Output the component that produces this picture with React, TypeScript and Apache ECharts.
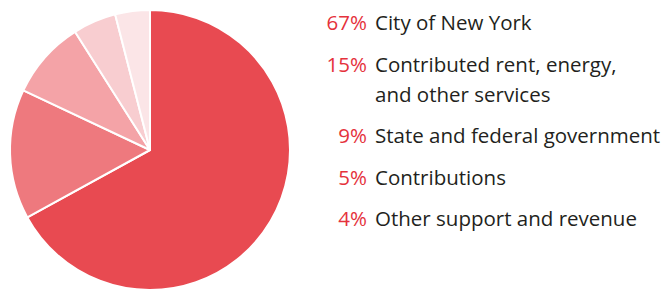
import React, { useEffect, useRef } from "react";
import * as echarts from "echarts";

const categories = [
  "City of New York",
  "Contributed rent, energy,\nand other services",
  "State and federal government",
  "Contributions",
  "Other support and revenue",
];
const values = [67, 15, 9, 5, 4];
const colors = ["#e84a51", "#ee797e", "#f4a3a7", "#f8cdd0", "#fbe5e7"];

export default function App() {
  const ref = useRef<HTMLDivElement>(null);
  useEffect(() => {
    document.body.style.margin = "0";
    const chart = echarts.init(ref.current!, null, { renderer: "svg" });
    const data = categories.map((name, i) => ({
      name,
      value: values[i],
      itemStyle: { color: colors[i] },
    }));

    const font = '20.5px "Open Sans"';
    const lineStep = 30;
    const itemGap = 11.5;
    const pctRight = 367;
    const textLeft = 375;
    let y = 22;
    const texts: any[] = [];
    categories.forEach((name, i) => {
      const lines = name.split("\n");
      texts.push({
        type: "text",
        style: {
          x: pctRight,
          y,
          text: `${values[i]}%`,
          font,
          fill: "#e5323c",
          align: "right",
          verticalAlign: "middle",
        },
      });
      lines.forEach((ln, k) => {
        texts.push({
          type: "text",
          style: {
            x: textLeft,
            y: y + k * lineStep,
            text: ln,
            font,
            fill: "#231f20",
            align: "left",
            verticalAlign: "middle",
          },
        });
      });
      y += lines.length * lineStep + itemGap;
    });

    chart.setOption({
      animation: false,
      graphic: texts,
      series: [
        {
          type: "pie",
          center: [150, 150],
          radius: 140,
          startAngle: 90,
          clockwise: true,
          label: { show: false },
          labelLine: { show: false },
          emphasis: { disabled: true },
          itemStyle: { borderColor: "#ffffff", borderWidth: 2 },
          data,
        },
      ],
    });
    return () => chart.dispose();
  }, []);
  return <div ref={ref} style={{ width: 672, height: 290 }} />;
}
